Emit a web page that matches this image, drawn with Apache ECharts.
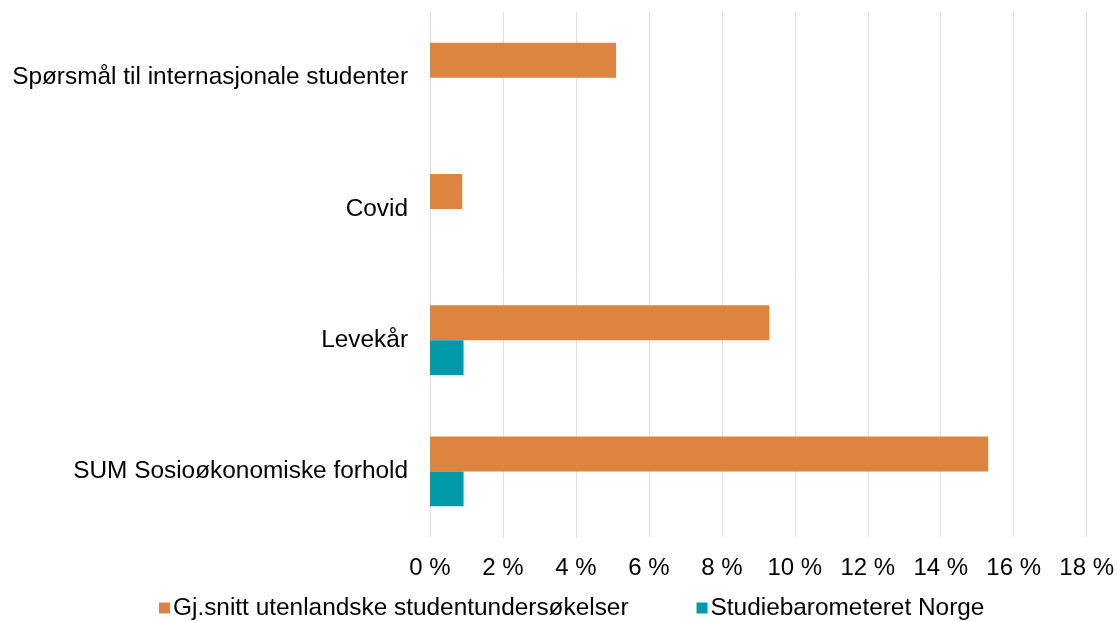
<!DOCTYPE html>
<html>
<head>
<meta charset="utf-8">
<script src="https://cdn.jsdelivr.net/npm/echarts@6/dist/echarts.min.js"></script>
<style>
  html, body { margin: 0; padding: 0; background: #fff; }
  #chart { width: 1117px; height: 621px; }
</style>
</head>
<body>
<div id="chart"></div>
<script>
const categories = [
  "Spørsmål til internasjonale studenter",
  "Covid",
  "Levekår",
  "SUM Sosioøkonomiske forhold",
];
const utenlandske = [5.1, 0.88, 9.3, 15.3];
const studiebarometeret = [null, null, 0.92, 0.92];
const seriesNames = ["Gj.snitt utenlandske studentundersøkelser", "Studiebarometeret Norge"];

const font = "Liberation Sans, Arial, sans-serif";
const chart = echarts.init(document.getElementById("chart"));

chart.setOption({
  animation: false,
  textStyle: { fontFamily: font },
  grid: { top: 12, bottom: 84, left: 430, right: 29, containLabel: false },
  legend: {
    left: 154,
    top: 591,
    itemWidth: 11,
    itemHeight: 11,
    itemGap: 68,
    icon: "rect",
    textStyle: { fontSize: 24.4, color: "#000", fontFamily: font, padding: [0, 0, 0, -2] },
    data: seriesNames,
  },
  xAxis: {
    type: "value",
    min: 0,
    max: 18,
    interval: 2,
    axisLine: { show: false },
    axisTick: { show: false },
    axisLabel: {
      color: "#000",
      fontSize: 24,
      margin: 19,
      formatter: (v) => v + " %",
    },
    splitLine: { lineStyle: { color: "#e0e0e0", width: 1 } },
  },
  yAxis: {
    type: "category",
    inverse: true,
    data: categories,
    axisLine: { show: false },
    axisTick: { show: false },
    axisLabel: { color: "#000", fontSize: 24.4, margin: 22 },
  },
  series: [
    {
      name: seriesNames[0],
      type: "bar",
      data: utenlandske,
      barGap: "0%",
      barCategoryGap: "47%",
      itemStyle: { color: "#dc8440" },
    },
    {
      name: seriesNames[1],
      type: "bar",
      data: studiebarometeret,
      barGap: "0%",
      barCategoryGap: "47%",
      itemStyle: { color: "#009aa9" },
    },
  ],
});
</script>
</body>
</html>
